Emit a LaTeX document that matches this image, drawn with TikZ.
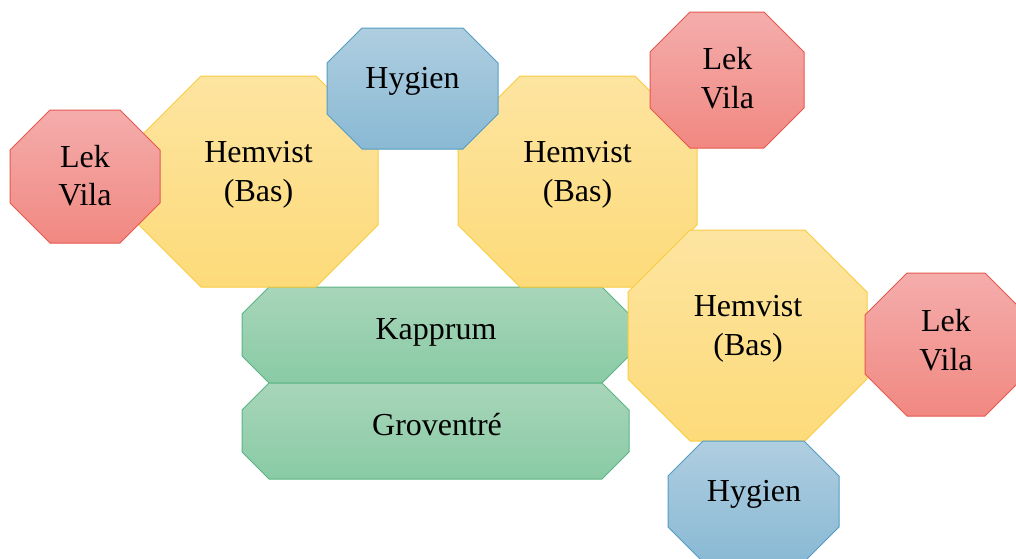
\documentclass[tikz,border=0pt]{standalone}
\usepackage{fontspec}
\setmainfont{Liberation Serif}
\usepackage{tikz}

\definecolor{bastop}{RGB}{253,228,160}
\definecolor{basbot}{RGB}{253,219,122}
\definecolor{basline}{RGB}{248,204,64}
\definecolor{lektop}{RGB}{244,173,172}
\definecolor{lekbot}{RGB}{241,136,129}
\definecolor{lekline}{RGB}{230,88,78}
\definecolor{hygtop}{RGB}{175,206,224}
\definecolor{hygbot}{RGB}{137,185,212}
\definecolor{hygline}{RGB}{84,156,196}
\definecolor{kaptop}{RGB}{168,213,185}
\definecolor{kapbot}{RGB}{137,203,165}
\definecolor{kapline}{RGB}{92,180,132}

\tikzset{
  bas/.style={draw=basline,top color=bastop,bottom color=basbot},
  lek/.style={draw=lekline,top color=lektop,bottom color=lekbot},
  hyg/.style={draw=hygline,top color=hygtop,bottom color=hygbot},
  kap/.style={draw=kapline,top color=kaptop,bottom color=kapbot},
  txt/.style={align=center,inner sep=0pt,anchor=base,font=\fontsize{32}{38.4}\selectfont}
}

% octagon: style, left, top, right, bottom, cut
\newcommand{\octa}[6]{\path[#1] ({#2+#6},#3) -- ({#4-#6},#3) -- (#4,{#3+#6}) -- (#4,{#5-#6})
  -- ({#4-#6},#5) -- ({#2+#6},#5) -- (#2,{#5-#6}) -- (#2,{#3+#6}) -- cycle;}

\begin{document}
\begin{tikzpicture}[x=1pt,y=-1pt,line width=1pt]
   \useasboundingbox (0,0) rectangle (1016,558);
   \clip (0,0) rectangle (1016,558);
   \octa{kap}{242}{287}{629}{383}{27}
   \octa{kap}{242}{383}{629}{479}{27}
   \octa{bas}{139}{76}{378}{287}{62}
   \octa{bas}{458}{76}{697}{287}{62}
   \octa{bas}{628}{230}{867}{441}{62}
   \octa{lek}{10}{110}{160}{243}{40}
   \octa{lek}{650}{12}{804}{148}{40}
   \octa{lek}{865}{273}{1027}{416}{42}
   \octa{hyg}{327}{28}{498}{149}{35}
   \octa{hyg}{668}{441}{839}{562}{35}
   % two-line labels sit on the baseline of their last line
   \node[txt] (lekL) at (85,205.5) {Lek\\Vila};
   \node[txt] (hemL) at (258.5,201) {Hemvist\\(Bas)};
   \node[txt] (hygT) at (412.5,88.3) {Hygien};
   \node[txt] (hemM) at (577.5,201) {Hemvist\\(Bas)};
   \node[txt] (lekTR) at (727.5,108) {Lek\\Vila};
   \node[txt] (hemR) at (748,355) {Hemvist\\(Bas)};
   \node[txt] (lekR) at (946,370) {Lek\\Vila};
   \node[txt] (hygB) at (754,501.7) {Hygien};
   \node[txt] (kapp) at (436,339.3) {Kapprum};
   \node[txt] (grov) at (437,435) {Groventré};
\end{tikzpicture}
\end{document}
